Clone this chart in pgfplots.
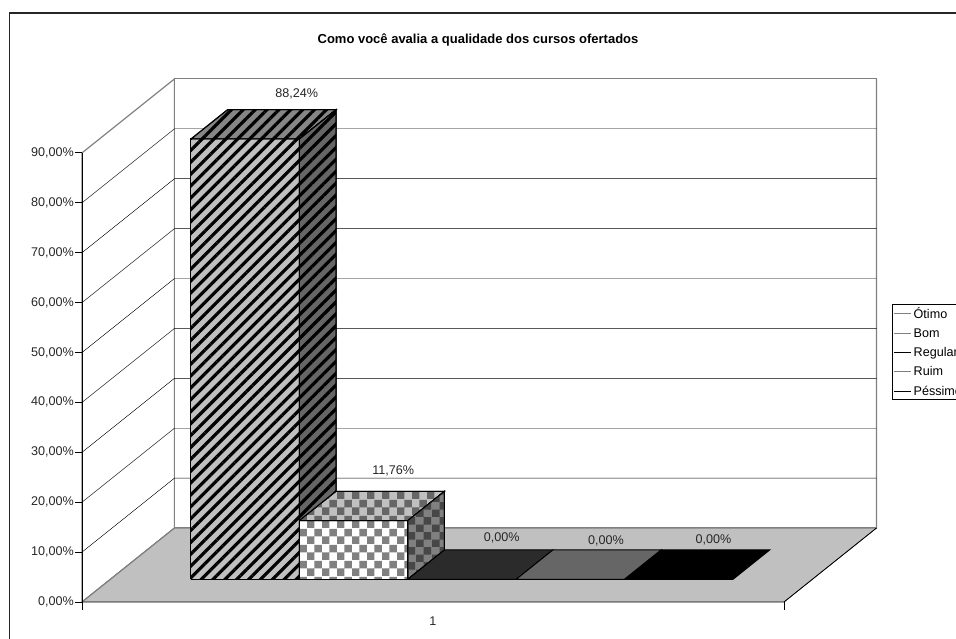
\documentclass[border=0pt]{standalone}
\usepackage{fontspec}
\setmainfont{Liberation Sans}
\usepackage{pgfplots}
\pgfplotsset{compat=1.18}
\usetikzlibrary{patterns,patterns.meta}

% Checkerboard used on the "Bom" column
\pgfdeclarepatternformonly{chk}{\pgfpointorigin}{\pgfqpoint{15.4pt}{15.4pt}}{\pgfqpoint{15.4pt}{15.4pt}}{%
  \pgfpathrectangle{\pgfpointorigin}{\pgfqpoint{7.7pt}{7.7pt}}%
  \pgfpathrectangle{\pgfqpoint{7.7pt}{7.7pt}}{\pgfqpoint{7.7pt}{7.7pt}}%
  \pgfusepath{fill}}

\tikzset{
  stripes/.style={preaction={fill=#1},
    pattern={Lines[angle=45,distance=8.4pt,line width=3.2pt]},pattern color=black,draw=black,line width=1pt},
  checks/.style n args={2}{preaction={fill=#1},pattern=chk,pattern color=#2,draw=black,line width=1pt},
  flat/.style={fill=#1,draw=black,line width=1pt},
  wall/.style={fill=white,draw=wallgray,line width=1.2pt},
  grid/.style={black,line width=0.8pt},
}
\definecolor{wallgray}{HTML}{808080}
\definecolor{floorgray}{HTML}{C0C0C0}

\begin{document}
\begin{tikzpicture}[x=1pt,y=1pt]
\path[use as bounding box] (0,0) rectangle (956,638);
\clip (0,0) rectangle (956,638);
\draw[line width=1.5pt,black!85] (9.5,-5) -- (9.5,625) -- (961,625);
\node[font=\bfseries\fontsize{13}{15}\selectfont] at (478,598) {Como você avalia a qualidade dos cursos ofertados};

\begin{axis}[
  at={(82pt,36pt)},anchor=origin,
  x={(1pt,0pt)},y={(92.5pt,74pt)},z={(0pt,4.99pt)},
  disabledatascaling,
  xmin=0,xmax=702,ymin=0,ymax=1,zmin=0,zmax=90,
  hide axis,clip=false,
  legend style={at={(axis cs:810,0,59.7)},anchor=north west,draw=black,line width=0.8pt,
    font=\fontsize{12.6}{14}\selectfont,inner xsep=1pt,inner ysep=1pt,
    row sep=4.6pt,cells={anchor=west}},
  legend cell align=left,
]
% Walls and floor
\addplot3[wall] coordinates {(0,0,0) (0,1,0) (0,1,90) (0,0,90) (0,0,0)};
\addplot3[wall] coordinates {(0,1,0) (702,1,0) (702,1,90) (0,1,90) (0,1,0)};
\addplot3[fill=floorgray,draw=none] coordinates {(0,0,0) (702,0,0) (702,1,0) (0,1,0) (0,0,0)};
\addplot3[wallgray,line width=1.2pt] coordinates {(0,0,0) (0,1,0) (702,1,0) (702,1,90)};
\addplot3[black,line width=0.9pt] coordinates {(0,0,0) (702,0,0) (702,1,0)};

% Gridlines on both walls
\pgfplotsinvokeforeach{10,20,...,80}{
  \addplot3[grid] coordinates {(0,0,#1) (0,1,#1) (702,1,#1)};
}
% Value axis with its ticks and labels
\addplot3[black,line width=1pt] coordinates {(0,0,0) (0,0,90)};
\pgfplotsinvokeforeach{0,10,...,90}{
  \draw[black,line width=0.8pt] (axis cs:0,0,#1) -- ++(-7pt,0pt);
  \node[anchor=east,inner sep=0pt,font=\fontsize{12.6}{14}\selectfont,text=black!85] at ([xshift=-8pt]axis cs:0,0,#1) {#1,00\%};
}
% Category axis ticks and label
\draw[black,line width=0.8pt] (axis cs:0,0,0) -- ++(0pt,-8pt);
\draw[black,line width=0.8pt] (axis cs:702,0,0) -- ++(0pt,-8pt);
\node[font=\fontsize{12.6}{14}\selectfont,text=black!85] at ([yshift=-19pt]axis cs:351,0,0) {1};

% Column "Otimo": 88,24 %
\addplot3[stripes=floorgray] coordinates {(80.6,0.307,0) (189,0.307,0) (189,0.307,88.24) (80.6,0.307,88.24) (80.6,0.307,0)};
\addplot3[stripes={wallgray!95}] coordinates {(80.6,0.307,88.24) (189,0.307,88.24) (189,0.703,88.24) (80.6,0.703,88.24) (80.6,0.307,88.24)};
\addplot3[stripes={black!60}] coordinates {(189,0.307,0) (189,0.703,0) (189,0.703,88.24) (189,0.307,88.24) (189,0.307,0)};
% Column "Bom": 11,76 %
\addplot3[checks={white}{wallgray}] coordinates {(189,0.307,0) (297.4,0.307,0) (297.4,0.307,11.76) (189,0.307,11.76) (189,0.307,0)};
\addplot3[checks={floorgray}{black!60}] coordinates {(189,0.307,11.76) (297.4,0.307,11.76) (297.4,0.703,11.76) (189,0.703,11.76) (189,0.307,11.76)};
\addplot3[checks={wallgray}{black!72}] coordinates {(297.4,0.307,0) (297.4,0.703,0) (297.4,0.703,11.76) (297.4,0.307,11.76) (297.4,0.307,0)};
% Empty columns: 0,00 %
\addplot3[flat=black!83] coordinates {(297.4,0.307,0) (405.8,0.307,0) (405.8,0.703,0) (297.4,0.703,0) (297.4,0.307,0)};
\addplot3[flat=black!60] coordinates {(405.8,0.307,0) (514.2,0.307,0) (514.2,0.703,0) (405.8,0.703,0) (405.8,0.307,0)};
\addplot3[flat=black] coordinates {(514.2,0.307,0) (622.6,0.307,0) (622.6,0.703,0) (514.2,0.703,0) (514.2,0.307,0)};

% Value labels
\tikzset{vlab/.style={font=\fontsize{12.6}{14}\selectfont,text=black!85}}
\node[vlab] at ([xshift=15pt,yshift=16pt]axis cs:134.8,0.703,88.24) {88,24\%};
\node[vlab] at ([xshift=3pt,yshift=20.5pt]axis cs:243.2,0.703,11.76) {11,76\%};
\node[vlab] at ([xshift=3pt,yshift=12.5pt]axis cs:351.6,0.703,0) {0,00\%};
\node[vlab] at ([xshift=-1pt,yshift=9.5pt]axis cs:460,0.703,0) {0,00\%};
\node[vlab] at ([xshift=-2pt,yshift=10.5pt]axis cs:568.4,0.703,0) {0,00\%};

% Legend
\addlegendimage{legend image code/.code={\draw[fill=black!65,line width=0.8pt] (0pt,-4.5pt) rectangle (9pt,4.5pt); \fill[floorgray] (0.5pt,4pt) -- (8.5pt,4pt) -- (0.5pt,-4pt) -- cycle;}}
\addlegendentry{Ótimo}
\addlegendimage{legend image code/.code={\draw[fill=black!45,line width=0.8pt] (0pt,-4.5pt) rectangle (9pt,4.5pt);}}
\addlegendentry{Bom}
\addlegendimage{legend image code/.code={\draw[fill=black!83,line width=0.8pt] (0pt,-4.5pt) rectangle (9pt,4.5pt);}}
\addlegendentry{Regular}
\addlegendimage{legend image code/.code={\draw[fill=black!50,line width=0.8pt] (0pt,-4.5pt) rectangle (9pt,4.5pt);}}
\addlegendentry{Ruim}
\addlegendimage{legend image code/.code={\draw[fill=black,line width=0.8pt] (0pt,-4.5pt) rectangle (9pt,4.5pt);}}
\addlegendentry{Péssimo}
\end{axis}
\end{tikzpicture}
\end{document}
